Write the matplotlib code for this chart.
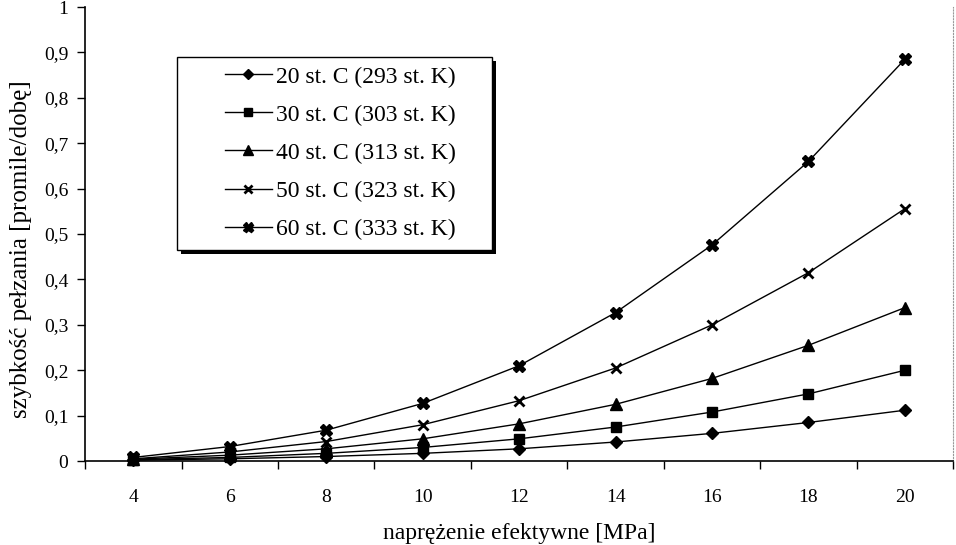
import matplotlib.pyplot as plt
from matplotlib.patches import Rectangle

plt.rcParams['font.family'] = ['Liberation Serif', 'DejaVu Serif']

# Data
stress = [4, 6, 8, 10, 12, 14, 16, 18, 20]
labels = ['20 st. C (293 st. K)', '30 st. C (303 st. K)', '40 st. C (313 st. K)',
          '50 st. C (323 st. K)', '60 st. C (333 st. K)']
rate_20 = [0.002, 0.005, 0.010, 0.017, 0.027, 0.042, 0.061, 0.085, 0.112]
rate_30 = [0.003, 0.008, 0.017, 0.030, 0.049, 0.075, 0.108, 0.148, 0.200]
rate_40 = [0.004, 0.013, 0.027, 0.049, 0.082, 0.125, 0.182, 0.255, 0.338]
rate_50 = [0.005, 0.020, 0.043, 0.080, 0.133, 0.205, 0.300, 0.415, 0.556]
rate_60 = [0.008, 0.032, 0.068, 0.127, 0.210, 0.327, 0.476, 0.660, 0.885]
y_ticks = [0, 0.1, 0.2, 0.3, 0.4, 0.5, 0.6, 0.7, 0.8, 0.9, 1.0]
y_tick_labels = ['0', '0,1', '0,2', '0,3', '0,4', '0,5', '0,6', '0,7', '0,8', '0,9', '1']

fig = plt.figure(figsize=(9.56, 5.45), dpi=100)
ax = fig.add_axes([0.089, 0.154, 0.908, 0.833])

styles = [
    dict(marker='D', markersize=6),
    dict(marker='s', markersize=7),
    dict(marker='^', markersize=8),
    dict(marker='x', markersize=7, markeredgewidth=2),
    dict(marker='X', markersize=8),
]
for series, label, st in zip([rate_20, rate_30, rate_40, rate_50, rate_60], labels, styles):
    ax.plot(stress, series, color='black', linewidth=1, label=label,
            markerfacecolor='black', markeredgecolor='black', clip_on=False, **st)

ax.set_xlim(3, 21)
ax.set_ylim(0, 1)

# tick marks between categories, labels at data points
ax.set_xticks(range(3, 22, 2))
ax.set_xticklabels([])
ax.set_xticks(stress, minor=True)
ax.set_xticklabels([str(v) for v in stress], minor=True)
ax.tick_params(axis='x', which='major', direction='out', length=6, width=1)
ax.tick_params(axis='x', which='minor', length=0, pad=20, labelsize=14)

ax.set_yticks(y_ticks)
ax.set_yticklabels(y_tick_labels)
ax.tick_params(axis='y', direction='out', length=6, width=1, labelsize=14, pad=6)

ax.spines['top'].set_visible(False)
ax.spines['right'].set_linestyle(':')
ax.spines['right'].set_color('#999999')
ax.spines['right'].set_linewidth(0.8)
ax.spines['left'].set_linewidth(1.2)
ax.spines['bottom'].set_linewidth(1.2)

ax.set_xlabel('naprężenie efektywne [MPa]', fontsize=17, labelpad=12)
ax.set_ylabel('szybkość pełzania [promile/dobę]', fontsize=18)
ax.yaxis.set_label_coords(-0.061, 0.467)

# legend box with a dark drop shadow
box_x0, box_y0, box_w, box_h = 0.106, 0.465, 0.363, 0.425
ax.add_patch(Rectangle((box_x0 + 0.004, box_y0 - 0.009), box_w, box_h,
                       transform=ax.transAxes, facecolor='black', edgecolor='none', zorder=4))
ax.add_patch(Rectangle((box_x0, box_y0), box_w, box_h, transform=ax.transAxes,
                       facecolor='white', edgecolor='black', linewidth=1, zorder=5))

leg = ax.legend(loc='upper left', bbox_to_anchor=(0.161, 0.87), fontsize=17,
                frameon=False, borderpad=0, borderaxespad=0, labelspacing=0.7,
                handlelength=2.0, handletextpad=0.15)
leg.set_zorder(6)
for h in leg.legend_handles:
    h.set_markersize(h.get_markersize() * 0.9)

fig.savefig('out.png', dpi=100)
plt.close(fig)
